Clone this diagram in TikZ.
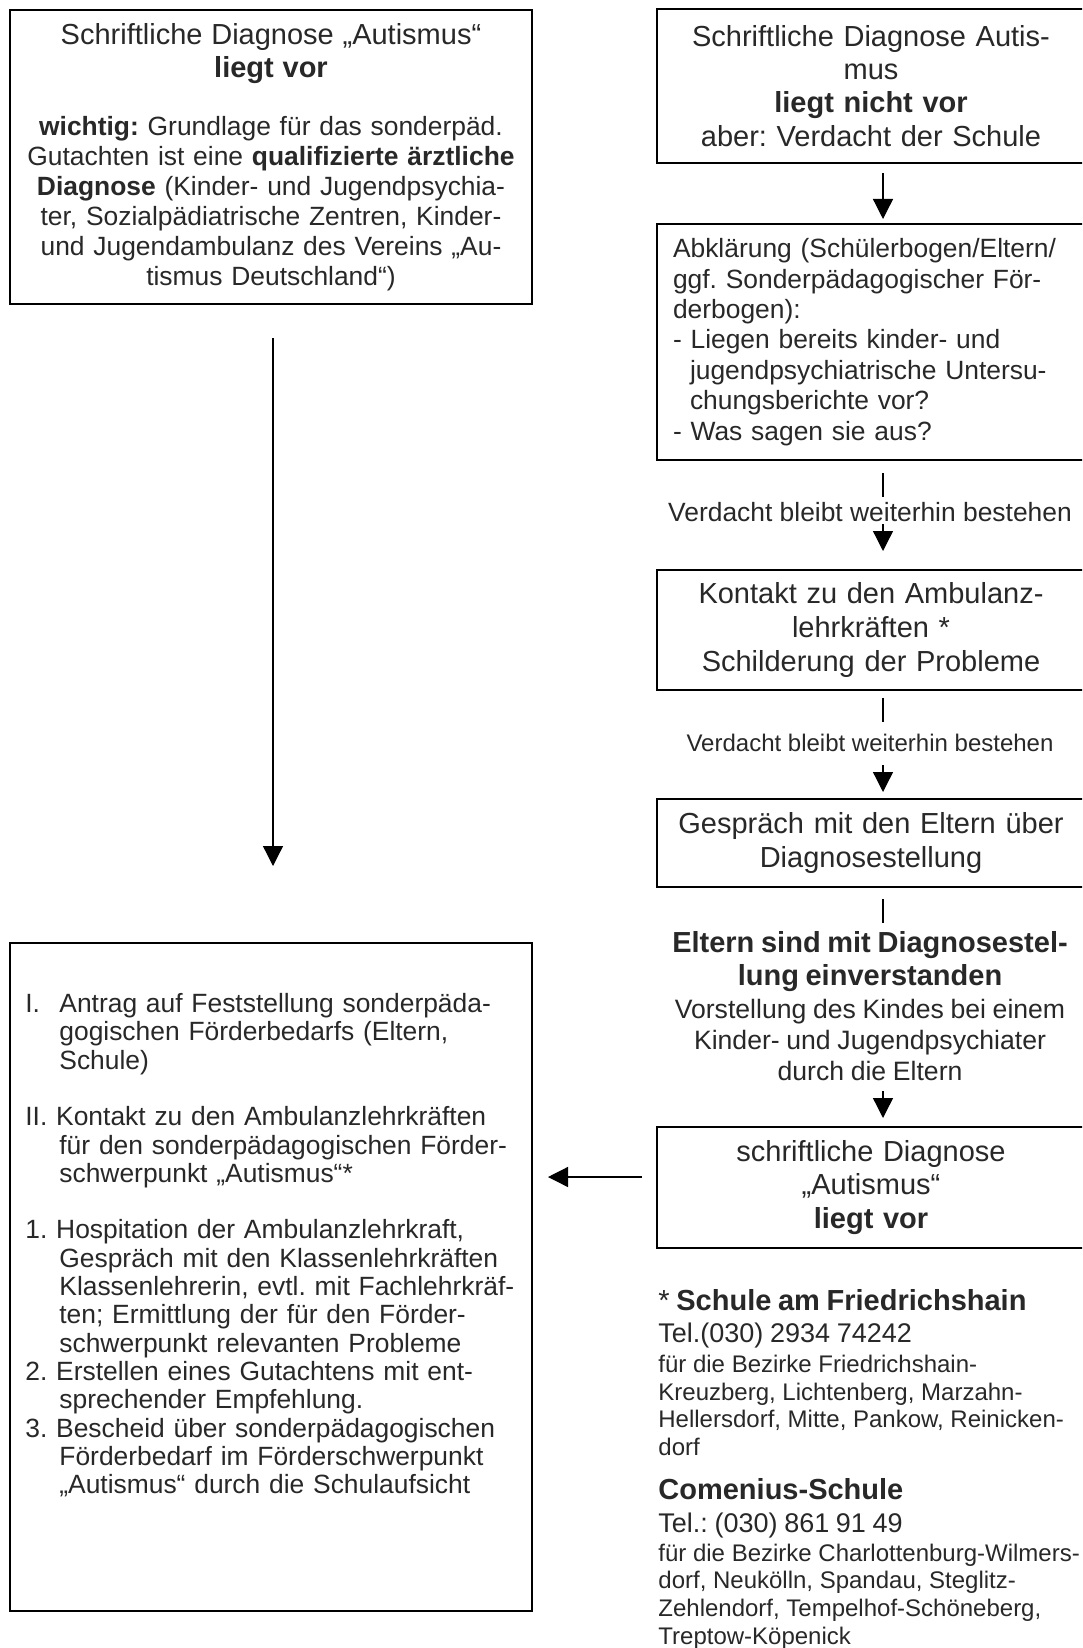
\documentclass[tikz,border=0pt]{standalone}
\usepackage{fontspec}
\setmainfont{Liberation Sans}
\usetikzlibrary{arrows.meta,calc}
\definecolor{txtc}{RGB}{40,40,40}
\setlength{\parindent}{0pt}
\newcommand\fbig{\fontsize{14.5}{16.6}\selectfont}
\newcommand\fmid{\fontsize{13.2}{15}\selectfont}
\newcommand\fll{\fontsize{13.2}{14.15}\selectfont}
\newcommand\fsm{\fontsize{12}{13.8}\selectfont}
\begin{document}
\frenchspacing
\begin{tikzpicture}[x=0.5pt,y=-0.5pt,
  every node/.append style={text=txtc},
  box/.style={draw=black, line width=1pt, inner sep=0pt, rectangle},
  conn/.style={draw=black, line width=0.65pt},
  arr/.style={conn, -{Triangle[length=10pt,width=10pt]}}]
\useasboundingbox (0,0) rectangle (1082,1648);
\fill[white] (0,0) rectangle (1082,1648);
\clip (0,0) rectangle (1082,1648);

% left column
\node[box, minimum width=261pt, minimum height=147pt, text width=255pt, align=center, font=\fmid] (tl) at (271,157) {%
{\fbig Schriftliche Diagnose „Autismus“\\\textbf{liegt vor}\par}\vspace{14pt}%
\textbf{wichtig:} Grundlage für das sonderpäd.\\
Gutachten ist eine \textbf{qualifizierte ärztliche}\\
\textbf{Diagnose} (Kinder- und Jugendpsychia-\\
ter, Sozialpädiatrische Zentren, Kinder-\\
und Jugendambulanz des Vereins „Au-\\
tismus Deutschland“)};

\node[box, minimum width=261pt, minimum height=334pt] (ll) at (271,1277) {};
\node[anchor=north west, inner sep=0pt, text width=250pt, align=left, font=\fll] (lltext) at (25,993) {%
\makebox[17pt][l]{I.}Antrag auf Feststellung sonderpäda-\\
\hspace*{17pt}gogischen Förderbedarfs (Eltern,\\
\hspace*{17pt}Schule)\\[14.15pt]
II. Kontakt zu den Ambulanzlehrkräften\\
\hspace*{17pt}für den sonderpädagogischen Förder-\\
\hspace*{17pt}schwerpunkt „Autismus“*\\[14.15pt]
1. Hospitation der Ambulanzlehrkraft,\\
\hspace*{17pt}Gespräch mit den Klassenlehrkräften\\
\hspace*{17pt}Klassenlehrerin, evtl. mit Fachlehrkräf-\\
\hspace*{17pt}ten; Ermittlung der für den Förder-\\
\hspace*{17pt}schwerpunkt relevanten Probleme\\
2. Erstellen eines Gutachtens mit ent-\\
\hspace*{17pt}sprechender Empfehlung.\\
3. Bescheid über sonderpädagogischen\\
\hspace*{17pt}Förderbedarf im Förderschwerpunkt\\
\hspace*{17pt}„Autismus“ durch die Schulaufsicht};

% right column
\node[box, minimum width=214pt, minimum height=77pt, text width=205pt, align=center, font=\fbig] (r1) at (871,86) {%
Schriftliche Diagnose Autis-\\mus\\\textbf{liegt nicht vor}\\aber: Verdacht der Schule};

\node[box, minimum width=214pt, minimum height=118pt, inner xsep=8pt, text width=198pt, align=left, font=\fontsize{13.2}{15.2}\selectfont] (r2) at (871,342) {%
Abklärung (Schülerbogen/Eltern/\\
ggf. Sonderpädagogischer För-\\
derbogen):\\
- Liegen bereits kinder- und\\
\hspace*{8.5pt}jugendpsychiatrische Untersu-\\
\hspace*{8.5pt}chungsberichte vor?\\
- Was sagen sie aus?};

\node[inner sep=0pt, font=\fmid] (lab1) at (870,512) {Verdacht bleibt weiterhin bestehen};

\node[box, minimum width=214pt, minimum height=60pt, text width=205pt, align=center, font=\fontsize{14.5}{16.8}\selectfont] (r3) at (871,630) {%
Kontakt zu den Ambulanz-\\lehrkräften *\\Schilderung der Probleme};

\node[inner sep=0pt, font=\fsm] (lab2) at (870,743) {Verdacht bleibt weiterhin bestehen};

\node[box, minimum width=214pt, minimum height=44pt, text width=205pt, align=center, font=\fbig] (r4) at (871,843) {%
Gespräch mit den Eltern über\\Diagnosestellung};

\node[anchor=north, inner sep=0pt, text width=214pt, align=center] (lab3) at (870,931) {%
{\fbig\bfseries Eltern sind mit Diagnosestel-\\lung einverstanden\par}\vspace{1pt}%
{\fontsize{13.3}{15.5}\selectfont Vorstellung des Kindes bei einem\\Kinder- und Jugendpsychiater\\durch die Eltern\par}};

\node[box, minimum width=214pt, minimum height=60.5pt, text width=205pt, align=center, font=\fontsize{14.5}{16.8}\selectfont] (r5) at (871,1187.5) {%
schriftliche Diagnose\\„Autismus“\\\textbf{liegt vor}};

\node[anchor=north west, inner sep=0pt, text width=216pt, align=left] (fn) at (658,1289) {%
{\fbig * \textbf{Schule am Friedrichshain}\par}
{\fontsize{13.5}{16}\selectfont Tel.(030) 2934 74242\par}\vspace{1.2pt}%
{\fsm für die Bezirke Friedrichshain-\\Kreuzberg, Lichtenberg, Marzahn-\\Hellersdorf, Mitte, Pankow, Reinicken-\\dorf\par}\vspace{5.4pt}%
{\fbig\bfseries Comenius-Schule\par}
{\fontsize{13.5}{16.5}\selectfont Tel.: (030) 861 91 49\par}\vspace{0.7pt}%
{\fsm für die Bezirke Charlottenburg-Wilmers-\\dorf, Neukölln, Spandau, Steglitz-\\Zehlendorf, Tempelhof-Schöneberg,\\Treptow-Köpenick\par}};

% connectors
\draw[arr, shorten <=16.5pt, shorten >=38pt] ([xshift=1pt]tl.south) -- ([xshift=1pt]ll.north);

\draw[arr, shorten <=4.5pt, shorten >=2pt] ([xshift=6pt]r1.south) -- ([xshift=6pt]r2.north);

\draw[conn, shorten <=6pt, shorten >=2.5pt] ([xshift=6pt]r2.south) -- ([xshift=6pt]r2.south |- lab1.north);
\draw[arr, shorten <=1pt, shorten >=9pt] ([xshift=6pt]r3.north |- lab1.south) -- ([xshift=6pt]r3.north);

\draw[conn, shorten <=3.5pt, shorten >=6pt] ([xshift=6pt]r3.south) -- ([xshift=6pt]r3.south |- lab2.north);
\draw[arr, shorten <=6.5pt, shorten >=3pt] ([xshift=6pt]r4.north |- lab2.south) -- ([xshift=6pt]r4.north);

\draw[conn, shorten <=5.5pt, shorten >=4pt] ([xshift=6pt]r4.south) -- ([xshift=6pt]r4.south |- lab3.north);
\draw[arr, shorten <=5pt, shorten >=4pt] ([xshift=6pt]r5.north |- lab3.south) -- ([xshift=6pt]r5.north);

\draw[arr, shorten <=7pt, shorten >=7.5pt] ([yshift=5.25pt]r5.west) -- ([yshift=5.25pt]r5.west -| ll.east);
\end{tikzpicture}
\end{document}
